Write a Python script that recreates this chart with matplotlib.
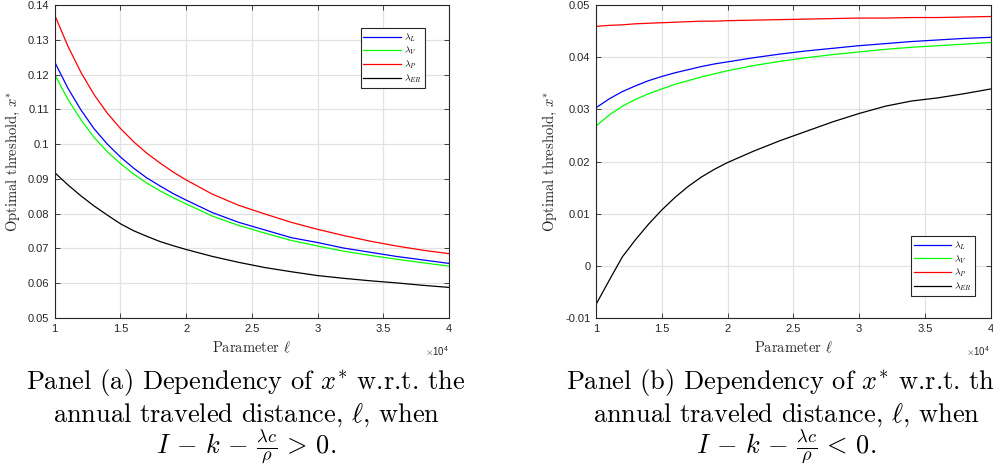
import numpy as np
import matplotlib
matplotlib.use("Agg")
import matplotlib.pyplot as plt
from matplotlib.ticker import MultipleLocator, FuncFormatter

plt.rcParams['font.family'] = ['Liberation Sans', 'DejaVu Sans']
plt.rcParams['mathtext.fontset'] = 'cm'

# annual traveled distance (x axis), sampled finer near the start
ell = [10000, 11000, 12000, 13000, 14000, 15000, 16000, 17000, 18000,
       19000, 20000, 22000, 24000, 26000, 28000, 30000, 32000, 34000,
       36000, 38000, 40000]

# panel (a): I - k - lambda*c/rho > 0
a_L = [0.1236, 0.1161, 0.1098, 0.1044, 0.1000, 0.0963, 0.0931, 0.0903,
       0.0880, 0.0858, 0.0839, 0.0803, 0.0775, 0.0753, 0.0731, 0.0717,
       0.0701, 0.0689, 0.0677, 0.0667, 0.0657]
a_V = [0.1200, 0.1129, 0.1070, 0.1019, 0.0978, 0.0944, 0.0914, 0.0888,
       0.0866, 0.0846, 0.0828, 0.0793, 0.0766, 0.0744, 0.0723, 0.0707,
       0.0692, 0.0680, 0.0669, 0.0659, 0.0649]
a_P = [0.1371, 0.1282, 0.1206, 0.1142, 0.1089, 0.1045, 0.1007, 0.0974,
       0.0946, 0.0920, 0.0897, 0.0856, 0.0824, 0.0799, 0.0775, 0.0755,
       0.0737, 0.0721, 0.0707, 0.0695, 0.0685]
a_ER = [0.0918, 0.0883, 0.0851, 0.0822, 0.0796, 0.0771, 0.0751, 0.0735,
        0.0720, 0.0708, 0.0697, 0.0677, 0.0660, 0.0645, 0.0633, 0.0622,
        0.0614, 0.0607, 0.0601, 0.0594, 0.0588]

# panel (b): I - k - lambda*c/rho < 0
b_L = [0.0303, 0.0320, 0.0334, 0.0345, 0.0355, 0.0363, 0.0370, 0.0376,
       0.0382, 0.0387, 0.0391, 0.0399, 0.0406, 0.0412, 0.0417, 0.0422,
       0.0426, 0.0430, 0.0433, 0.0436, 0.0438]
b_V = [0.0268, 0.0289, 0.0306, 0.0319, 0.0330, 0.0339, 0.0348, 0.0355,
       0.0362, 0.0368, 0.0374, 0.0384, 0.0392, 0.0399, 0.0405, 0.0410,
       0.0415, 0.0419, 0.0422, 0.0425, 0.0428]
b_P = [0.0459, 0.0461, 0.0462, 0.0464, 0.0465, 0.0466, 0.0467, 0.0468,
       0.0469, 0.0469, 0.0470, 0.0471, 0.0472, 0.0473, 0.0474, 0.0475,
       0.0475, 0.0476, 0.0476, 0.0477, 0.0478]
b_ER = [-0.0074, -0.0028, 0.0017, 0.0050, 0.0080, 0.0107, 0.0131, 0.0152,
        0.0170, 0.0185, 0.0198, 0.0220, 0.0240, 0.0258, 0.0276, 0.0292,
        0.0306, 0.0316, 0.0322, 0.0330, 0.0339]

labels = [r'$\lambda_L$', r'$\lambda_V$', r'$\lambda_P$', r'$\lambda_{ER}$']
colors = ['#0000ff', '#00ff00', '#ff0000', '#000000']

captions = {
    'a': [r'Panel (a) Dependency of $x^{*}$ w.r.t. the',
          r'annual traveled distance, $\ell$, when',
          r'$I\,-\,k\,-\,\frac{\lambda c}{\rho}\,>\,0.$'],
    'b': [r'Panel (b) Dependency of $x^{*}$ w.r.t. the',
          r'annual traveled distance, $\ell$, when',
          r'$I\,-\,k\,-\,\frac{\lambda c}{\rho}\,<\,0.$'],
}

AX_COLOR = '#262626'
SERIF = 'cmr10'


def style_axes(ax, ylim, ystep, ylabel_x):
    ax.set_xlim(10000, 40000)
    ax.set_ylim(*ylim)
    ax.xaxis.set_major_locator(MultipleLocator(5000))
    ax.yaxis.set_major_locator(MultipleLocator(ystep))
    ax.xaxis.set_major_formatter(FuncFormatter(lambda v, _: f'{v / 1e4:g}'))
    ax.yaxis.set_major_formatter(FuncFormatter(lambda v, _: f'{round(v, 4):g}'))
    ax.tick_params(direction='in', top=True, right=True, length=3.5, width=0.6,
                   colors=AX_COLOR, labelsize=8, pad=4)
    for s in ax.spines.values():
        s.set_color(AX_COLOR)
        s.set_linewidth(0.8)
    ax.grid(True, color='#e2e2e2', linewidth=0.9)
    ax.set_axisbelow(True)
    ax.set_xlabel(r'Parameter $\ell$', fontsize=10.5, fontfamily=SERIF,
                  color=AX_COLOR, va='center')
    ax.xaxis.set_label_coords(0.5, -0.093)
    ax.set_ylabel(r'Optimal threshold, $x^{*}$', fontsize=10.5, fontfamily=SERIF,
                  color=AX_COLOR, va='center')
    ax.yaxis.set_label_coords(ylabel_x, 0.5)
    ax.text(1.0, -0.107, r'$\times\mathregular{10^{4}}$', transform=ax.transAxes,
            ha='right', va='center', fontsize=7, color=AX_COLOR)


fig = plt.figure(figsize=(9.93, 4.73), dpi=100)
ax1 = fig.add_axes([0.0551, 0.3277, 0.3971, 0.6617])
ax2 = fig.add_axes([0.6002, 0.3277, 0.3973, 0.6617])

for ys, c, lab in zip([a_L, a_V, a_P, a_ER], colors, labels):
    ax1.plot(ell, ys, color=c, linewidth=0.9, label=lab)
for ys, c, lab in zip([b_L, b_V, b_P, b_ER], colors, labels):
    ax2.plot(ell, ys, color=c, linewidth=0.9, label=lab)

style_axes(ax1, (0.05, 0.14), 0.01, -0.106)
style_axes(ax2, (-0.01, 0.05), 0.01, -0.117)

leg_kw = dict(fontsize=7, frameon=True, fancybox=False, framealpha=1,
              edgecolor=AX_COLOR, handlelength=3.9, handletextpad=0.3,
              labelspacing=0.12, borderpad=0.3, borderaxespad=0)
leg1 = ax1.legend(loc='upper right', bbox_to_anchor=(0.939, 0.9265), **leg_kw)
leg2 = ax2.legend(loc='lower right', bbox_to_anchor=(0.961, 0.070), **leg_kw)
for leg in (leg1, leg2):
    leg.get_frame().set_linewidth(0.8)

# captions under each panel (the right one runs past the figure edge, as in the original)
for key, xc in (('a', 246), ('b', 786)):
    for line, yc in zip(captions[key], (383, 415, 446)):
        fig.text(xc / 993, 1 - yc / 473, line, ha='center', va='center',
                 fontsize=19, fontfamily=SERIF, color='black')

fig.savefig('out.png', dpi=100)
